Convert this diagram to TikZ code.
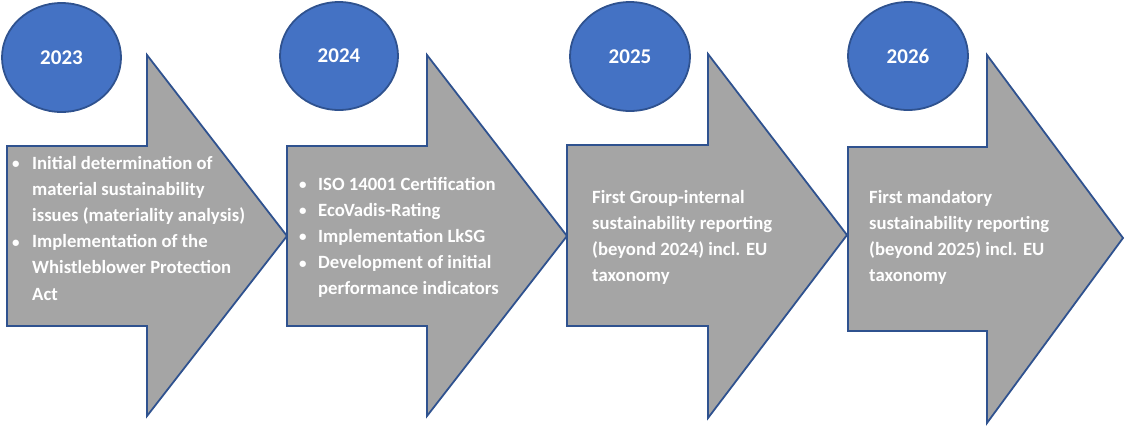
\documentclass[tikz,border=0pt]{standalone}
\usepackage{fontspec}
\setmainfont{Carlito}
\usetikzlibrary{shapes.geometric}
\definecolor{ellfill}{HTML}{4472C4}
\definecolor{edgeblue}{HTML}{2F528F}
\definecolor{arrfill}{HTML}{A5A5A5}
\tikzset{
  yearell/.style={ellipse, draw=edgeblue, fill=ellfill, line width=1.8pt, inner sep=0pt,
    text=white, font=\fontsize{21}{24}\selectfont\bfseries},
  bigarrow/.style={draw=edgeblue, fill=arrfill, line width=1.8pt, line join=miter},
  bodytext/.style={anchor=base west, inner sep=0pt, text=white}
}
\newcommand{\bodyfont}{\fontsize{18.7}{26.2}\selectfont\bfseries}
\newcommand{\bul}[1]{\hangindent=#1\hangafter=1\noindent\makebox[#1][l]{\raisebox{0.5pt}{\fontsize{15}{15}\selectfont •}}}
\begin{document}
\begin{tikzpicture}[x=1pt,y=-1pt]
\useasboundingbox (0,0) rectangle (1125,426);
% arrows
\draw[bigarrow] (7,146) -- (147,146) -- (147,55) -- (287,236) -- (147,416) -- (147,326) -- (7,326) -- cycle;
\draw[bigarrow] (287,146) -- (427,146) -- (427,55) -- (567,236) -- (427,416) -- (427,326) -- (287,326) -- cycle;
\draw[bigarrow] (567,145) -- (708,145) -- (708,54) -- (847,235) -- (708,418) -- (708,326) -- (567,326) -- cycle;
\draw[bigarrow] (848,147) -- (987,147) -- (987,55) -- (1123,238) -- (987,423) -- (987,331) -- (848,331) -- cycle;
% year ellipses
\node[yearell, minimum width=119pt, minimum height=109pt] (y1) at (61.5,57.5) {2023};
\node[yearell, minimum width=118pt, minimum height=108pt] (y2) at (339,56) {2024};
\node[yearell, minimum width=120pt, minimum height=109pt] (y3) at (630,56.5) {2025};
\node[yearell, minimum width=120pt, minimum height=108pt] (y4) at (908,56) {2026};
% texts
\node[bodytext] (t1) at (12,169) {\parbox[t]{300pt}{\bodyfont
\bul{20pt}Initial determination of\\ material sustainability\\ issues (materiality analysis)\par
\bul{20pt}Implementation of the\\ Whistleblower Protection\\ Act\par}};
\node[bodytext] (t2) at (299,190) {\parbox[t]{300pt}{\bodyfont
\bul{19pt}ISO 14001 Certification\par
\bul{19pt}EcoVadis-Rating\par
\bul{19pt}Implementation LkSG\par
\bul{19pt}Development of initial\\ performance indicators\par}};
\node[bodytext] (t3) at (592,203) {\parbox[t]{300pt}{\bodyfont\noindent
First Group-internal\\ sustainability reporting\\ (beyond 2024) incl. EU\\ taxonomy}};
\node[bodytext] (t4) at (869,203) {\parbox[t]{300pt}{\bodyfont\noindent
First mandatory\\ sustainability reporting\\ (beyond 2025) incl. EU\\ taxonomy}};
\end{tikzpicture}
\end{document}
